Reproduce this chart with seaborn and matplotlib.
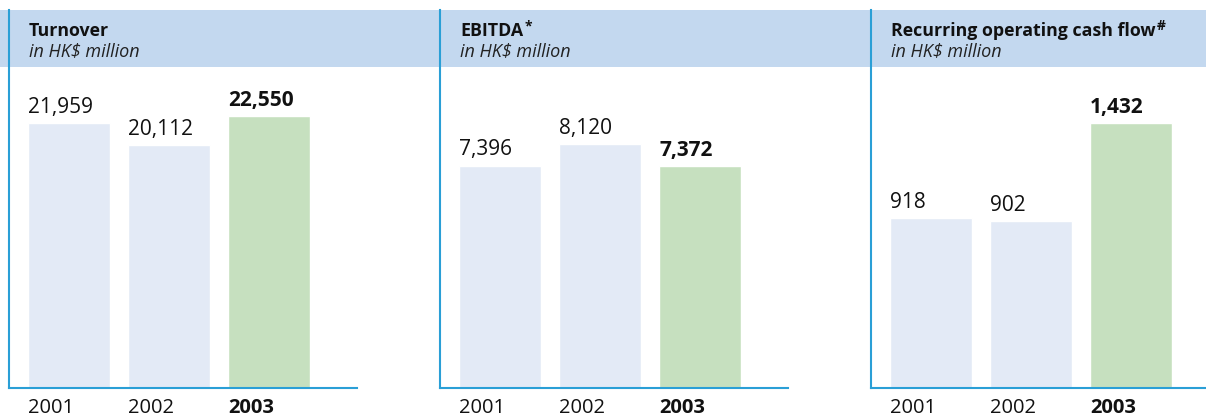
import matplotlib
matplotlib.use("Agg")
import matplotlib.pyplot as plt
import seaborn as sns
import pandas as pd
from matplotlib.patches import Rectangle

sns.set_theme(style="white")
plt.rcParams['font.family'] = ['Open Sans', 'DejaVu Sans']

years = ["2001", "2002", "2003"]
turnover = [21959, 20112, 22550]
ebitda = [7396, 8120, 7372]
cash_flow = [918, 902, 1432]
titles = ["Turnover", "EBITDA", "Recurring operating cash flow"]
marks = ["", "*", "#"]
subtitle = "in HK$ million"

W, H = 1206, 419
fig = plt.figure(figsize=(W / 100, H / 100), dpi=100)

band = "#c3d8ef"
light = "#e3eaf6"
green = "#c6e0bf"
line = "#2a9fd6"

# header band across the whole width, behind the axes
fig.patches.append(Rectangle((0, 1 - 67 / H), 1, 57 / H, transform=fig.transFigure,
                             facecolor=band, edgecolor="none", zorder=-5))

# panel pixel boxes: left, right, y max
panels = [(9, 357, 31330, turnover), (440, 788, 12580, ebitda), (871, 1206, 2043, cash_flow)]

renderer = fig.canvas.get_renderer()
for i, (x0, x1, ymax, vals) in enumerate(panels):
    ax = fig.add_axes([x0 / W, (H - 388) / H, (x1 - x0) / W, 378 / H])
    ax.patch.set_alpha(0)
    df = pd.DataFrame({"year": years, "value": vals})
    sns.barplot(data=df, x="year", y="value", hue="year", palette=[light, light, green],
                width=0.82, legend=False, ax=ax, saturation=1)
    ax.set_xlim(-0.60, -0.60 + (x1 - x0) / 100)
    ax.set_ylim(0, ymax)
    ax.set_xticks([])
    ax.set_yticks([])
    ax.set_xlabel("")
    ax.set_ylabel("")
    for s in ["top", "right"]:
        ax.spines[s].set_visible(False)
    for s in ["left", "bottom"]:
        ax.spines[s].set_color(line)
        ax.spines[s].set_linewidth(1.5)
    for j, v in enumerate(vals):
        bold = j == 2
        ax.annotate(f"{v:,}", xy=(j - 0.41, v), xytext=(0, 7.5), textcoords="offset points",
                    ha="left", va="baseline", fontsize=15,
                    fontweight="bold" if bold else "normal", color="#111111")
        ax.annotate(years[j], xy=(j - 0.41, 0), xytext=(0, -21.4), textcoords="offset points",
                    ha="left", va="bottom", fontsize=14.5,
                    fontweight="bold" if bold else "normal", color="#111111",
                    annotation_clip=False)

    t = fig.text((x0 + 20) / W, 1 - 36 / H, titles[i], fontsize=12.8, fontweight="bold",
                 color="#111111", va="baseline", ha="left")
    if marks[i]:
        bb = t.get_window_extent(renderer)
        fig.text(bb.x1 / W + 0.0008, 1 - 30 / H, marks[i], fontsize=10, fontweight="bold",
                 color="#111111", va="baseline", ha="left")
    fig.text((x0 + 20) / W, 1 - 56 / H, subtitle, fontsize=13, fontstyle="italic",
             color="#222222", va="baseline", ha="left")

fig.savefig("out.png", dpi=100)
